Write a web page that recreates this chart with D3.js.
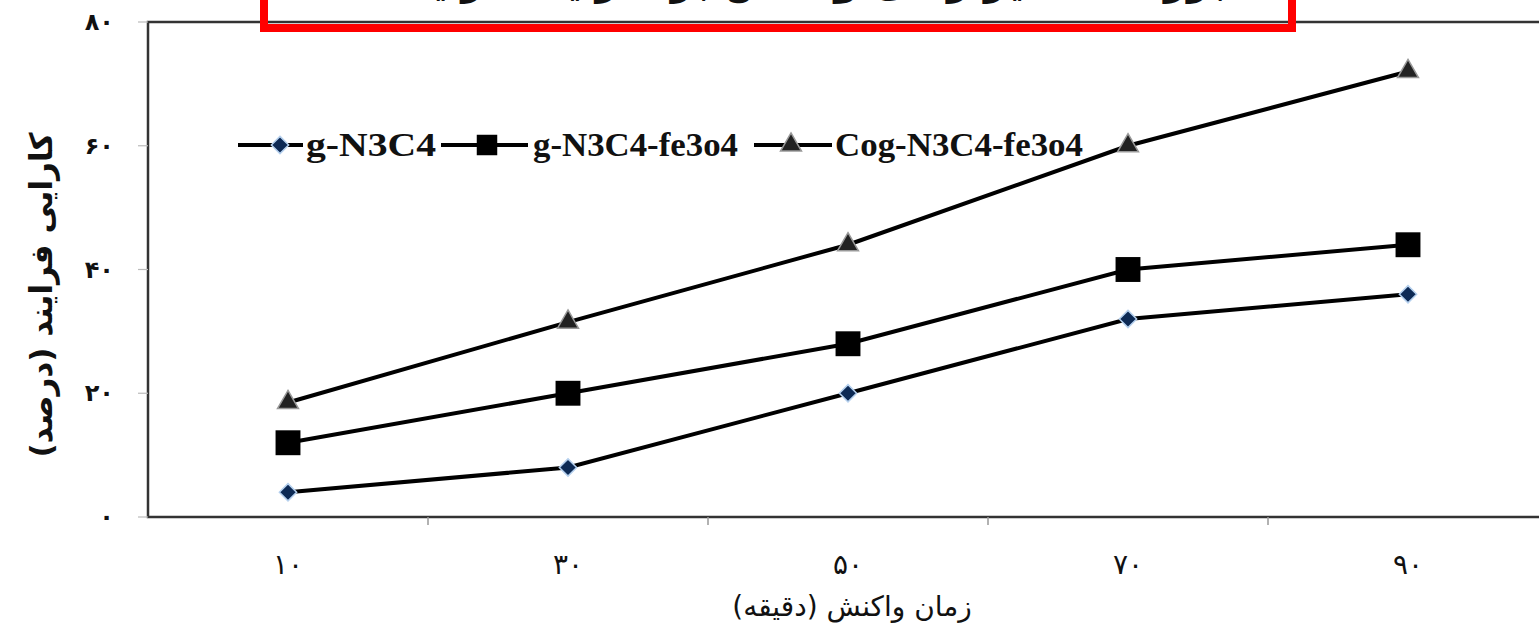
<!DOCTYPE html>
<html>
<head>
<meta charset="utf-8">
<script src="https://cdn.jsdelivr.net/npm/d3@7"></script>
<style>
  body { margin: 0; background: #fff; overflow: hidden; }
  svg { display: block; }
</style>
</head>
<body>
<svg id="chart"></svg>
<script>
// Data
const times = ["10", "30", "50", "70", "90"];
const timeLabels = ["۱۰", "۳۰", "۵۰", "۷۰", "۹۰"];
const gN3C4 = [4, 8, 20, 32, 36];
const gN3C4Fe3o4 = [12, 20, 28, 40, 44];
const cogN3C4Fe3o4 = [18.5, 31.5, 44, 60, 72];
const yTicks = [0, 20, 40, 60, 80];
const yTickLabels = ["۰", "۲۰", "۴۰", "۶۰", "۸۰"];
const seriesNames = ["g-N3C4", "g-N3C4-fe3o4", "Cog-N3C4-fe3o4"];

const width = 1539, height = 630;
const svg = d3.select("#chart").attr("width", width).attr("height", height);

// plot frame
const plot = { left: 148, top: 22, bottom: 517, right: 1548 };

const x = d3.scaleBand().domain(times).range([plot.left, plot.right]);
const y = d3.scaleLinear().domain([0, 80]).range([plot.bottom, plot.top]);

// frame
svg.append("rect")
    .attr("x", plot.left).attr("y", plot.top)
    .attr("width", plot.right - plot.left).attr("height", plot.bottom - plot.top)
    .attr("fill", "none").attr("stroke", "#333").attr("stroke-width", 2.5);

// x axis (ticks on band boundaries, like Excel)
const xAxis = svg.append("g").attr("transform", `translate(0,${plot.bottom})`);
xAxis.selectAll("line")
    .data(times.slice(1))
    .join("line")
    .attr("x1", d => x(d)).attr("x2", d => x(d))
    .attr("y1", 0).attr("y2", 8)
    .attr("stroke", "#999").attr("stroke-width", 1.5);
xAxis.selectAll("text")
    .data(times)
    .join("text")
    .attr("x", d => x(d) + x.bandwidth() / 2)
    .attr("y", 57)
    .attr("text-anchor", "middle")
    .attr("font-family", "DejaVu Sans")
    .attr("font-size", 28)
    .attr("fill", "#111")
    .text((d, i) => timeLabels[i]);

// y axis ticks + labels
const yAxis = svg.append("g");
yAxis.selectAll("line")
    .data(yTicks)
    .join("line")
    .attr("x1", plot.left - 10).attr("x2", plot.left)
    .attr("y1", d => y(d)).attr("y2", d => y(d))
    .attr("stroke", "#bbb").attr("stroke-width", 1.2);
yAxis.selectAll("text")
    .data(yTicks)
    .join("text")
    .attr("x", 114)
    .attr("y", d => y(d) + 8)
    .attr("text-anchor", "end")
    .attr("font-family", "DejaVu Sans")
    .attr("font-weight", "bold")
    .attr("font-size", 24)
    .attr("fill", "#111")
    .text((d, i) => yTickLabels[i]);

// axis titles
svg.append("text")
    .attr("transform", "translate(52,295) rotate(-90)")
    .attr("text-anchor", "middle")
    .attr("font-family", "DejaVu Sans")
    .attr("font-weight", "bold")
    .attr("font-size", 31)
    .attr("fill", "#111")
    .text("کارایی فرایند (درصد)");

svg.append("text")
    .attr("x", 852).attr("y", 616)
    .attr("text-anchor", "middle")
    .attr("font-family", "DejaVu Sans")
    .attr("font-size", 28)
    .attr("fill", "#111")
    .text("زمان واکنش (دقیقه)");

// series
const line = d3.line()
    .x((d, i) => x(times[i]) + x.bandwidth() / 2)
    .y(d => y(d));

const allSeries = [gN3C4, gN3C4Fe3o4, cogN3C4Fe3o4];
allSeries.forEach(vals => {
  svg.append("path")
      .datum(vals)
      .attr("d", line)
      .attr("fill", "none")
      .attr("stroke", "#000")
      .attr("stroke-width", 4);
});

const markerStyles = [
  { type: d3.symbolDiamond2, size: 190, fill: "#0d2a55", stroke: "#b5d0ee", sw: 1.5 },
  { type: d3.symbolSquare, size: 620, fill: "#000", stroke: "none", sw: 0 },
  { type: d3.symbolTriangle, size: 190, fill: "#222", stroke: "#999", sw: 1.5 }
];

function drawMarker(g, st, cx, cy) {
  g.append("path")
      .attr("d", d3.symbol().type(st.type).size(st.size)())
      .attr("transform", `translate(${cx},${cy})`)
      .attr("fill", st.fill)
      .attr("stroke", st.stroke)
      .attr("stroke-width", st.sw);
}

allSeries.forEach((vals, si) => {
  const g = svg.append("g");
  vals.forEach((v, i) => drawMarker(g, markerStyles[si], x(times[i]) + x.bandwidth() / 2, y(v)));
});

// legend: [line start, line end, marker x, text x]
const legendPos = [[238, 303, 280, 306], [441, 528, 487, 533], [754, 832, 791, 835]];
const legend = svg.append("g");
seriesNames.forEach((name, i) => {
  const [x1, x2, mx, tx] = legendPos[i], ly = 145;
  legend.append("line")
      .attr("x1", x1).attr("x2", x2)
      .attr("y1", ly).attr("y2", ly)
      .attr("stroke", "#000").attr("stroke-width", 4);
  drawMarker(legend, i === 1 ? { ...markerStyles[i], size: 420 } : markerStyles[i], mx, ly);
  legend.append("text")
      .attr("x", tx).attr("y", ly + 11)
      .attr("font-family", "Liberation Serif")
      .attr("font-weight", "bold")
      .attr("font-size", 33)
      .attr("textLength", [130, 205, 248][i])
      .attr("lengthAdjust", "spacingAndGlyphs")
      .attr("fill", "#111")
      .text(name);
});

// cropped title, with the red highlight box over it
svg.append("text")
    .attr("x", 810).attr("y", -6)
    .attr("text-anchor", "middle")
    .attr("font-family", "DejaVu Sans")
    .attr("font-weight", "bold")
    .attr("font-size", 40)
    .attr("fill", "#111")
    .text("بررسی تاثیر زمان واکنش بر کارایی فرایند");

svg.append("rect")
    .attr("x", 264).attr("y", -20)
    .attr("width", 1028).attr("height", 48)
    .attr("fill", "none")
    .attr("stroke", "#ff0000")
    .attr("stroke-width", 8);
</script>
</body>
</html>
